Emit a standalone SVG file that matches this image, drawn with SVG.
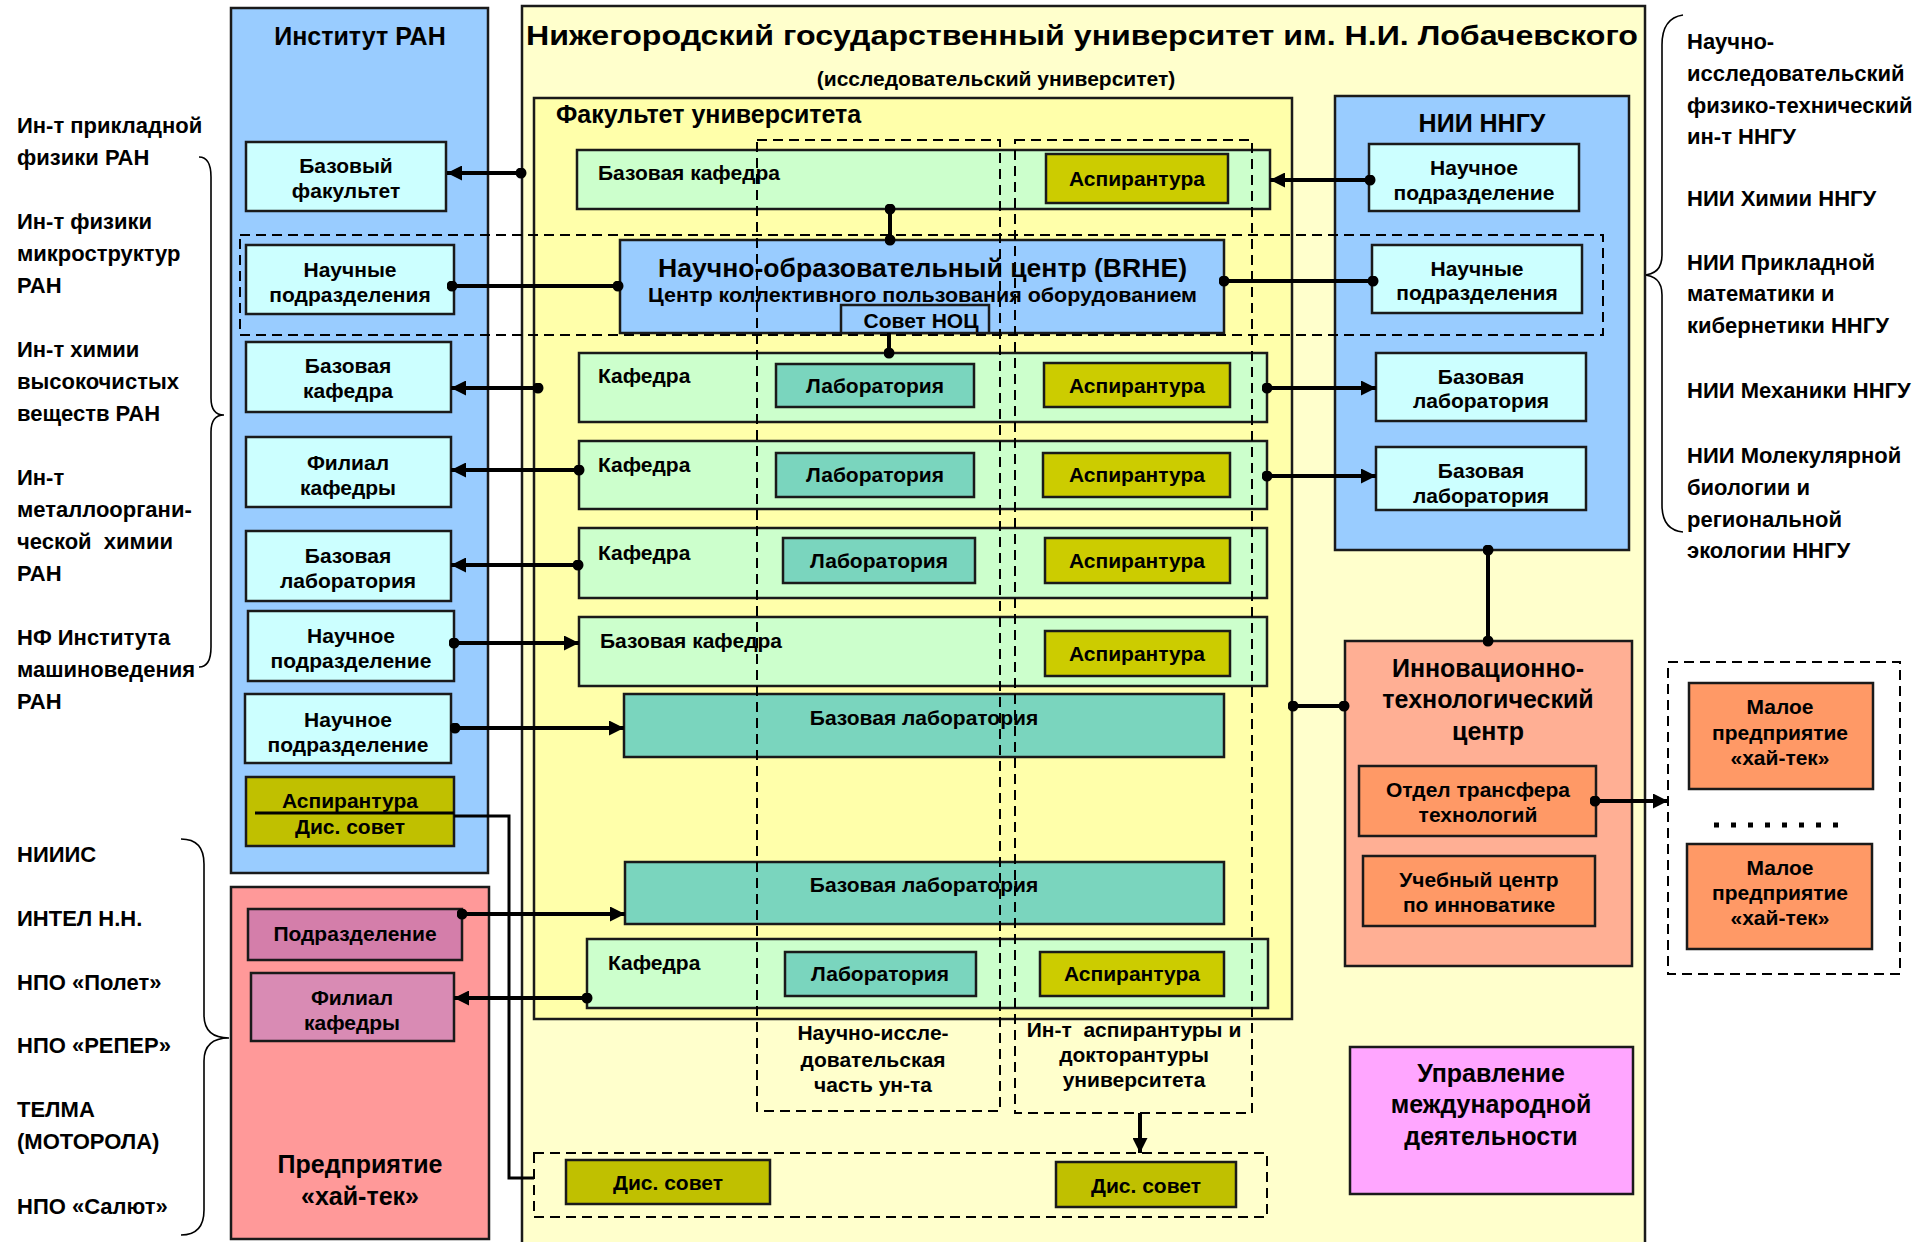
<svg xmlns="http://www.w3.org/2000/svg" width="1915" height="1242" viewBox="0 0 1915 1242">
<defs>
<style>
.t{font-family:"Liberation Sans",Arial,sans-serif;font-weight:bold;fill:#000}
.c{text-anchor:middle}
.s20{font-size:21px}
.s22{font-size:22px}
.s25{font-size:25px}
.bx{stroke:#1a1a1a;stroke-width:2.5}
.blue{fill:#99CCFF}
.cyan{fill:#CCFFFF}
.green{fill:#CCFFCC}
.lab{fill:#7AD5BE}
.asp{fill:#CCCC00}
.dis{fill:#C0C000}
.orng{fill:#FF9966}
.dash{fill:none;stroke:#000;stroke-width:2;stroke-dasharray:10,6}
.ln{fill:none;stroke:#000;stroke-width:4}
.br{fill:none;stroke:#000;stroke-width:1.6}
</style>
<marker id="arr" viewBox="0 0 10 10" refX="10" refY="5" markerWidth="16" markerHeight="15" markerUnits="userSpaceOnUse" orient="auto">
<path d="M0,0 L10,5 L0,10 z" fill="#000"/>
</marker>
<marker id="dot" viewBox="0 0 10 10" refX="5" refY="5" markerWidth="11" markerHeight="11" markerUnits="userSpaceOnUse">
<circle cx="5" cy="5" r="5" fill="#000"/>
</marker>
</defs>
<rect width="1915" height="1242" fill="#fff"/>

<!-- side labels -->
<g id="ran-labels" class="t s22">
<text x="17" y="133">Ин-т прикладной</text>
<text x="17" y="165">физики РАН</text>
<text x="17" y="229">Ин-т физики</text>
<text x="17" y="261">микроструктур</text>
<text x="17" y="293">РАН</text>
<text x="17" y="357">Ин-т химии</text>
<text x="17" y="389">высокочистых</text>
<text x="17" y="421">веществ РАН</text>
<text x="17" y="485">Ин-т</text>
<text x="17" y="517">металлооргани-</text>
<text x="17" y="549" xml:space="preserve">ческой  химии</text>
<text x="17" y="581">РАН</text>
<text x="17" y="645">НФ Института</text>
<text x="17" y="677">машиноведения</text>
<text x="17" y="709">РАН</text>
</g>
<g id="enterprise-labels" class="t s22">
<text x="17" y="862">НИИИС</text>
<text x="17" y="926">ИНТЕЛ Н.Н.</text>
<text x="17" y="990">НПО «Полет»</text>
<text x="17" y="1053">НПО «РЕПЕР»</text>
<text x="17" y="1117">ТЕЛМА</text>
<text x="17" y="1149">(МОТОРОЛА)</text>
<text x="17" y="1214">НПО «Салют»</text>
</g>
<g id="nii-labels" class="t s22">
<text x="1687" y="49">Научно-</text>
<text x="1687" y="81">исследовательский</text>
<text x="1687" y="113">физико-технический</text>
<text x="1687" y="144">ин-т ННГУ</text>
<text x="1687" y="206">НИИ Химии ННГУ</text>
<text x="1687" y="270">НИИ Прикладной</text>
<text x="1687" y="301">математики и</text>
<text x="1687" y="333">кибернетики ННГУ</text>
<text x="1687" y="398">НИИ Механики ННГУ</text>
<text x="1687" y="463">НИИ Молекулярной</text>
<text x="1687" y="495">биологии и</text>
<text x="1687" y="527">региональной</text>
<text x="1687" y="558">экологии ННГУ</text>
</g>
<g id="braces">
<path class="br" d="M199,157 Q211,157 211,177 L211,398 Q211,415 224,415 Q211,415 211,432 L211,647 Q211,667 199,667"/>
<path class="br" d="M181,839 Q204,839 204,864 L204,1015 Q204,1038 229,1038 Q204,1038 204,1061 L204,1210 Q204,1235 181,1235"/>
<path class="br" d="M1683,15 Q1662,18 1662,45 L1662,255 Q1662,275 1642,275 Q1662,275 1662,295 L1662,505 Q1662,530 1683,532"/>
</g>

<!-- containers -->
<g id="university">
<rect class="bx" x="522" y="6" width="1123" height="1250" fill="#FFFFCC"/>
<text class="t" x="526" y="45" font-size="28" textLength="1112" lengthAdjust="spacingAndGlyphs">Нижегородский государственный университет им. Н.И. Лобачевского</text>
<text class="t s20 c" x="996" y="86">(исследовательский университет)</text>
</g>
<g id="faculty">
<rect class="bx" x="534" y="98" width="758" height="921" fill="#FFFFAA"/>
<text class="t s25" x="556" y="123">Факультет университета</text>
</g>
<g id="institut-ran">
<rect class="bx blue" x="231" y="8" width="257" height="865"/>
<text class="t s25 c" x="360" y="45">Институт РАН</text>
</g>
<g id="nii-nngu">
<rect class="bx blue" x="1335" y="96" width="294" height="454"/>
<text class="t s25 c" x="1482" y="132">НИИ ННГУ</text>
</g>
<g id="enterprise">
<rect class="bx" x="231" y="887" width="258" height="352" fill="#FF9999"/>
<text class="t s25 c" x="360" y="1173">Предприятие</text>
<text class="t s25 c" x="360" y="1205">«хай-тек»</text>
</g>

<!-- RAN nodes -->
<g id="ran-baz-fak"><rect class="bx cyan" x="246" y="142" width="200" height="69"/>
<text class="t s20 c" x="346" y="173">Базовый</text><text class="t s20 c" x="346" y="198">факультет</text></g>
<g id="ran-nauch-podr"><rect class="bx cyan" x="246" y="245" width="208" height="69"/>
<text class="t s20 c" x="350" y="277">Научные</text><text class="t s20 c" x="350" y="302">подразделения</text></g>
<g id="ran-baz-kaf"><rect class="bx cyan" x="246" y="342" width="205" height="70"/>
<text class="t s20 c" x="348" y="373">Базовая</text><text class="t s20 c" x="348" y="398">кафедра</text></g>
<g id="ran-filial"><rect class="bx cyan" x="246" y="437" width="205" height="70"/>
<text class="t s20 c" x="348" y="470">Филиал</text><text class="t s20 c" x="348" y="495">кафедры</text></g>
<g id="ran-baz-lab"><rect class="bx cyan" x="246" y="531" width="205" height="70"/>
<text class="t s20 c" x="348" y="563">Базовая</text><text class="t s20 c" x="348" y="588">лаборатория</text></g>
<g id="ran-podr1"><rect class="bx cyan" x="248" y="611" width="206" height="70"/>
<text class="t s20 c" x="351" y="643">Научное</text><text class="t s20 c" x="351" y="668">подразделение</text></g>
<g id="ran-podr2"><rect class="bx cyan" x="245" y="694" width="206" height="69"/>
<text class="t s20 c" x="348" y="727">Научное</text><text class="t s20 c" x="348" y="752">подразделение</text></g>
<g id="ran-asp"><rect class="bx dis" x="246" y="777" width="208" height="69"/>
<line x1="255" y1="813" x2="454" y2="813" stroke="#000" stroke-width="3"/>
<text class="t s20 c" x="350" y="808">Аспирантура</text><text class="t s20 c" x="350" y="834">Дис. совет</text></g>

<!-- enterprise nodes -->
<g id="ent-podr"><rect class="bx" x="248" y="909" width="214" height="51" fill="#D47EAA"/>
<text class="t s20 c" x="355" y="941">Подразделение</text></g>
<g id="ent-filial"><rect class="bx" x="251" y="973" width="203" height="68" fill="#D98BB4"/>
<text class="t s20 c" x="352" y="1005">Филиал</text><text class="t s20 c" x="352" y="1030">кафедры</text></g>

<!-- faculty rows -->
<g id="row1"><rect class="bx green" x="577" y="150" width="693" height="59"/>
<text class="t s20" x="598" y="180">Базовая кафедра</text>
<rect class="bx asp" x="1046" y="154" width="182" height="49"/><text class="t s20 c" x="1137" y="186">Аспирантура</text></g>
<g id="row2"><rect class="bx green" x="579" y="353" width="688" height="69"/>
<text class="t s20" x="598" y="383">Кафедра</text>
<rect class="bx lab" x="776" y="364" width="198" height="43"/><text class="t s20 c" x="875" y="393">Лаборатория</text>
<rect class="bx asp" x="1044" y="363" width="186" height="44"/><text class="t s20 c" x="1137" y="393">Аспирантура</text></g>
<g id="row3"><rect class="bx green" x="579" y="441" width="688" height="68"/>
<text class="t s20" x="598" y="472">Кафедра</text>
<rect class="bx lab" x="776" y="453" width="198" height="44"/><text class="t s20 c" x="875" y="482">Лаборатория</text>
<rect class="bx asp" x="1043" y="453" width="187" height="44"/><text class="t s20 c" x="1137" y="482">Аспирантура</text></g>
<g id="row4"><rect class="bx green" x="579" y="528" width="688" height="70"/>
<text class="t s20" x="598" y="560">Кафедра</text>
<rect class="bx lab" x="783" y="538" width="192" height="45"/><text class="t s20 c" x="879" y="568">Лаборатория</text>
<rect class="bx asp" x="1045" y="538" width="185" height="45"/><text class="t s20 c" x="1137" y="568">Аспирантура</text></g>
<g id="row5"><rect class="bx green" x="579" y="617" width="688" height="69"/>
<text class="t s20" x="600" y="648">Базовая кафедра</text>
<rect class="bx asp" x="1045" y="631" width="185" height="45"/><text class="t s20 c" x="1137" y="661">Аспирантура</text></g>
<g id="baz-lab1"><rect class="bx lab" x="624" y="694" width="600" height="63"/>
<text class="t s20 c" x="924" y="725">Базовая лаборатория</text></g>
<g id="baz-lab2"><rect class="bx lab" x="625" y="862" width="599" height="62"/>
<text class="t s20 c" x="924" y="892">Базовая лаборатория</text></g>
<g id="row6"><rect class="bx green" x="587" y="939" width="681" height="69"/>
<text class="t s20" x="608" y="970">Кафедра</text>
<rect class="bx lab" x="785" y="952" width="191" height="44"/><text class="t s20 c" x="880" y="981">Лаборатория</text>
<rect class="bx asp" x="1040" y="952" width="184" height="44"/><text class="t s20 c" x="1132" y="981">Аспирантура</text></g>

<!-- NOC -->
<g id="noc"><rect class="bx blue" x="620" y="240" width="604" height="93"/>
<text class="t" x="658" y="277" font-size="26" textLength="529" lengthAdjust="spacingAndGlyphs">Научно-образовательный центр (BRHE)</text>
<text class="t" x="648" y="302" font-size="20" textLength="549" lengthAdjust="spacingAndGlyphs">Центр коллективного пользования оборудованием</text>
<rect class="bx blue" x="841" y="305" width="148" height="28"/>
<text class="t s20 c" x="921" y="328">Совет НОЦ</text></g>

<!-- NII nodes -->
<g id="nii-podr"><rect class="bx cyan" x="1369" y="144" width="210" height="67"/>
<text class="t s20 c" x="1474" y="175">Научное</text><text class="t s20 c" x="1474" y="200">подразделение</text></g>
<g id="nii-podrs"><rect class="bx cyan" x="1372" y="245" width="210" height="68"/>
<text class="t s20 c" x="1477" y="276">Научные</text><text class="t s20 c" x="1477" y="300">подразделения</text></g>
<g id="nii-lab1"><rect class="bx cyan" x="1376" y="353" width="210" height="68"/>
<text class="t s20 c" x="1481" y="384">Базовая</text><text class="t s20 c" x="1481" y="408">лаборатория</text></g>
<g id="nii-lab2"><rect class="bx cyan" x="1376" y="447" width="210" height="63"/>
<text class="t s20 c" x="1481" y="478">Базовая</text><text class="t s20 c" x="1481" y="503">лаборатория</text></g>

<!-- ITC -->
<g id="itc"><rect class="bx" x="1345" y="641" width="287" height="325" fill="#FFAF94"/>
<text class="t s25 c" x="1488" y="677">Инновационно-</text>
<text class="t s25 c" x="1488" y="708">технологический</text>
<text class="t s25 c" x="1488" y="740">центр</text></g>
<g id="itc-transfer"><rect class="bx orng" x="1359" y="766" width="237" height="70"/>
<text class="t s20 c" x="1478" y="797">Отдел трансфера</text><text class="t s20 c" x="1478" y="822">технологий</text></g>
<g id="itc-edu"><rect class="bx orng" x="1363" y="856" width="232" height="70"/>
<text class="t s20 c" x="1479" y="887">Учебный центр</text><text class="t s20 c" x="1479" y="912">по инноватике</text></g>
<g id="intl"><rect class="bx" x="1350" y="1047" width="283" height="147" fill="#FFA6FF"/>
<text class="t s25 c" x="1491" y="1082">Управление</text>
<text class="t s25 c" x="1491" y="1113">международной</text>
<text class="t s25 c" x="1491" y="1145">деятельности</text></g>

<!-- small enterprises -->
<g id="small-ent">
<rect class="dash" x="1668" y="662" width="232" height="312"/>
<rect class="bx orng" x="1689" y="683" width="184" height="106"/>
<text class="t s20 c" x="1780" y="714">Малое</text><text class="t s20 c" x="1780" y="740">предприятие</text><text class="t s20 c" x="1780" y="765">«хай-тек»</text>
<line x1="1714" y1="825" x2="1850" y2="825" stroke="#000" stroke-width="5" stroke-dasharray="5,12"/>
<rect class="bx orng" x="1687" y="844" width="185" height="105"/>
<text class="t s20 c" x="1780" y="875">Малое</text><text class="t s20 c" x="1780" y="900">предприятие</text><text class="t s20 c" x="1780" y="925">«хай-тек»</text>
</g>

<!-- dis sovet group -->
<g id="dis-sovet">
<rect class="dash" x="534" y="1153" width="733" height="64"/>
<rect class="bx dis" x="566" y="1160" width="204" height="44"/><text class="t s20 c" x="668" y="1190">Дис. совет</text>
<rect class="bx dis" x="1056" y="1162" width="180" height="45"/><text class="t s20 c" x="1146" y="1193">Дис. совет</text>
</g>

<!-- dashed groupings -->
<g id="groupings">
<rect class="dash" x="240" y="235" width="1363" height="100"/>
<rect class="dash" x="757" y="140" width="243" height="971"/>
<rect class="dash" x="1015" y="140" width="237" height="973"/>
<text class="t s20 c" x="873" y="1040">Научно-иссле-</text>
<text class="t s20 c" x="873" y="1067">довательская</text>
<text class="t s20 c" x="873" y="1092">часть ун-та</text>
<text class="t s20 c" x="1134" y="1037" xml:space="preserve">Ин-т  аспирантуры и</text>
<text class="t s20 c" x="1134" y="1062">докторантуры</text>
<text class="t s20 c" x="1134" y="1087">университета</text>
</g>

<!-- connectors -->
<g id="connectors">
<path class="ln" d="M521,173 H447" marker-start="url(#dot)" marker-end="url(#arr)"/>
<path class="ln" d="M452,286 H618" marker-start="url(#dot)" marker-end="url(#dot)"/>
<path class="ln" d="M538,388 H451" marker-start="url(#dot)" marker-end="url(#arr)"/>
<path class="ln" d="M579,470 H451" marker-start="url(#dot)" marker-end="url(#arr)"/>
<path class="ln" d="M578,565 H451" marker-start="url(#dot)" marker-end="url(#arr)"/>
<path class="ln" d="M454,643 H579" marker-start="url(#dot)" marker-end="url(#arr)"/>
<path class="ln" d="M455,728 H624" marker-start="url(#dot)" marker-end="url(#arr)"/>
<path class="ln" d="M462,914 H625" marker-start="url(#dot)" marker-end="url(#arr)"/>
<path class="ln" d="M587,998 H454" marker-start="url(#dot)" marker-end="url(#arr)"/>
<path fill="none" stroke="#000" stroke-width="3" d="M454,816 H509 V1178 H534"/>
<path class="ln" d="M890,209 V240" marker-start="url(#dot)" marker-end="url(#dot)"/>
<path class="ln" d="M889,333 V353" marker-end="url(#dot)"/>
<path class="ln" d="M1370,180 H1270" marker-start="url(#dot)" marker-end="url(#arr)"/>
<path class="ln" d="M1224,281 H1373" marker-start="url(#dot)" marker-end="url(#dot)"/>
<path class="ln" d="M1267,388 H1376" marker-start="url(#dot)" marker-end="url(#arr)"/>
<path class="ln" d="M1267,476 H1376" marker-start="url(#dot)" marker-end="url(#arr)"/>
<path class="ln" d="M1488,550 V641" marker-start="url(#dot)" marker-end="url(#dot)"/>
<path class="ln" d="M1293,706 H1344" marker-start="url(#dot)" marker-end="url(#dot)"/>
<path class="ln" d="M1595,801 H1668" marker-start="url(#dot)" marker-end="url(#arr)"/>
<path class="ln" d="M1140,1113 V1153" marker-end="url(#arr)"/>
</g>
</svg>
